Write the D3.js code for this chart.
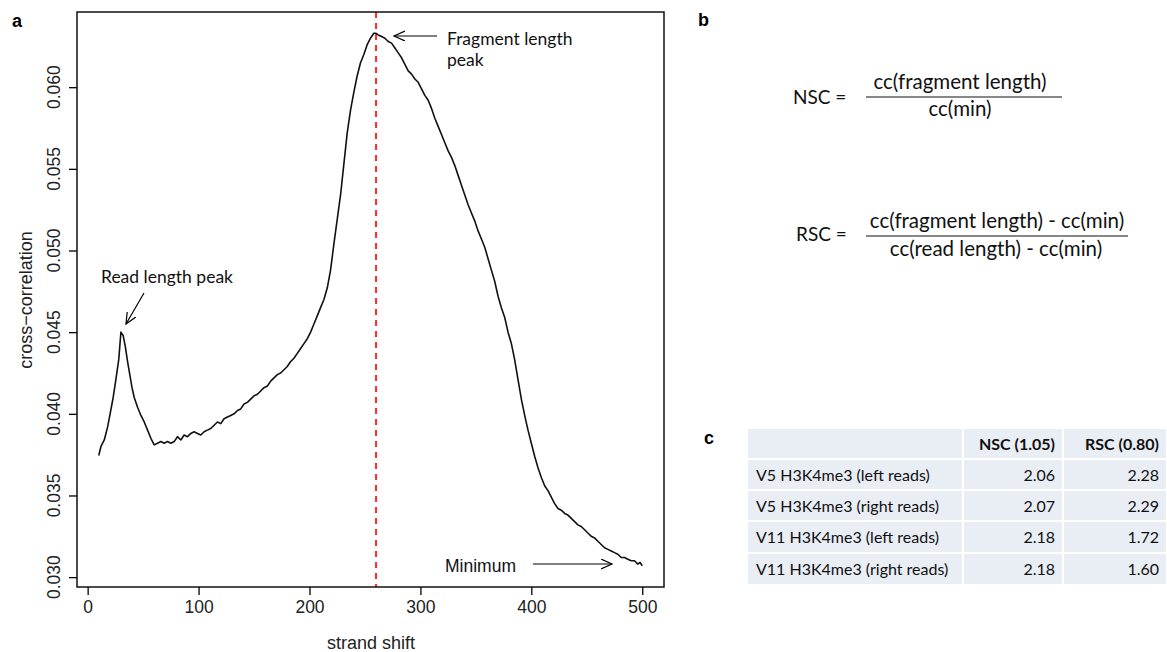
<!DOCTYPE html>
<html>
<head>
<meta charset="utf-8">
<script src="https://cdn.jsdelivr.net/npm/d3@7"></script>
<style>
  body { margin: 0; background: #fff; }
  svg { display: block; }
</style>
</head>
<body>
<div></div>
<script>
// cross-correlation profile (strand shift, cc)
const shift = [10, 12, 15, 18, 20, 23, 25, 28, 30, 32, 34, 36, 38, 40, 42, 45, 48, 51, 54, 57,
  60, 63, 66, 69, 72, 75, 78, 81, 84, 87, 90, 93, 96, 99, 102, 105, 108, 111, 114, 117,
  120, 123, 126, 129, 132, 135, 138, 141, 144, 147, 150, 153, 156, 159, 162, 165, 168, 171, 174, 177,
  180, 183, 186, 189, 192, 195, 198, 201, 204, 207, 210, 213, 216, 219, 222, 225, 228, 231, 234, 237,
  240, 243, 246, 249, 252, 255, 258, 260, 262, 265, 268, 271, 274, 277, 280, 283, 286, 289, 292, 295,
  298, 301, 304, 307, 310, 313, 316, 319, 322, 325, 328, 331, 334, 337, 340, 343, 346, 349, 352, 355,
  358, 361, 364, 367, 370, 373, 376, 379, 382, 385, 388, 391, 394, 397, 400, 403, 406, 409, 412, 415,
  418, 421, 424, 427, 430, 433, 436, 439, 442, 445, 448, 451, 454, 457, 460, 463, 466, 469, 472, 475,
  478, 481, 484, 487, 490, 493, 496, 498, 500];
const cc = [0.03745, 0.0380, 0.0384, 0.0392, 0.0399, 0.0410, 0.0419, 0.0433, 0.0450, 0.0448, 0.0441, 0.0432, 0.0424, 0.0416, 0.0410, 0.0404, 0.0399, 0.0395, 0.0390, 0.0385,
  0.0381, 0.0382, 0.0383, 0.0382, 0.0383, 0.0382, 0.0383, 0.0386, 0.0384, 0.0387, 0.0386, 0.0388, 0.0389, 0.0388, 0.0387, 0.0389, 0.0390, 0.0391, 0.0393, 0.0395,
  0.0394, 0.0397, 0.0398, 0.0399, 0.0400, 0.0402, 0.0403, 0.0406, 0.0407, 0.0409, 0.0411, 0.0412, 0.0414, 0.0416, 0.0417, 0.0420, 0.0422, 0.0424, 0.0425, 0.0427,
  0.0429, 0.0432, 0.0434, 0.0437, 0.0440, 0.0443, 0.0446, 0.0450, 0.0455, 0.0460, 0.0465, 0.0470, 0.0477, 0.0488, 0.0504, 0.0519, 0.0534, 0.0553, 0.0572, 0.0586,
  0.0597, 0.0607, 0.0615, 0.0620, 0.0626, 0.0630, 0.0633, 0.0633, 0.0632, 0.0631, 0.0630, 0.0628, 0.0627, 0.0624, 0.0621, 0.0618, 0.0614, 0.0610, 0.0608, 0.0605,
  0.0603, 0.0599, 0.0595, 0.0592, 0.0587, 0.0581, 0.0576, 0.0571, 0.0566, 0.0561, 0.0557, 0.0552, 0.0546, 0.0540, 0.0534, 0.0528, 0.0523, 0.0518, 0.0512, 0.0507,
  0.0502, 0.0495, 0.0488, 0.0481, 0.0472, 0.0465, 0.0459, 0.0450, 0.0443, 0.0433, 0.0421, 0.0409, 0.0399, 0.0390, 0.0382, 0.0374, 0.0367, 0.0361, 0.0356, 0.0353,
  0.0349, 0.0345, 0.0342, 0.0341, 0.0339, 0.0338, 0.0336, 0.0334, 0.0332, 0.0331, 0.0329, 0.0327, 0.0325, 0.0324, 0.0322, 0.0320, 0.0318, 0.0317, 0.0316, 0.0315,
  0.0314, 0.0312, 0.0312, 0.0311, 0.0310, 0.0310, 0.0308, 0.0309, 0.0307];
const fragmentPeak = 260;

const xTicks = [0, 100, 200, 300, 400, 500];
const yTicks = [0.030, 0.035, 0.040, 0.045, 0.050, 0.055, 0.060];

// table in panel c
const tableHeader = ['', 'NSC (1.05)', 'RSC (0.80)'];
const samples = ['V5 H3K4me3 (left reads)', 'V5 H3K4me3 (right reads)', 'V11 H3K4me3 (left reads)', 'V11 H3K4me3 (right reads)'];
const nsc = ['2.06', '2.07', '2.18', '2.18'];
const rsc = ['2.28', '2.29', '1.72', '1.60'];

const data = shift.map((s, i) => ({ s: s, v: cc[i] }));

const svg = d3.select('div').append('svg')
    .attr('width', 1167)
    .attr('height', 652);

// arrow head like the hand drawn ones
svg.append('defs').append('marker')
    .attr('id', 'open')
    .attr('markerUnits', 'userSpaceOnUse')
    .attr('markerWidth', 14).attr('markerHeight', 14)
    .attr('refX', 11).attr('refY', 5)
    .attr('orient', 'auto')
    .append('path')
    .attr('d', 'M0,0 L11,5 L0,10')
    .attr('fill', 'none')
    .attr('stroke', 'black')
    .attr('stroke-width', 1.2);

// R style range extension of 4%
const xr = d3.extent(shift), yr = d3.extent(cc);
const xPad = (xr[1] - xr[0]) * 0.04, yPad = (yr[1] - yr[0]) * 0.04;

const xScale = d3.scaleLinear()
    .domain([xr[0] - xPad, xr[1] + xPad])
    .range([77, 664]);

const yScale = d3.scaleLinear()
    .domain([yr[0] - yPad, yr[1] + yPad])
    .range([587, 12]);

// axes
const xAxis = svg.append('g')
    .attr('transform', 'translate(0,587)')
    .call(d3.axisBottom(xScale).tickValues(xTicks).tickSize(8).tickPadding(6));
xAxis.select('.domain').remove();
xAxis.selectAll('line').attr('stroke-width', 1.3);
xAxis.selectAll('text')
    .attr('font-family', 'Liberation Sans, Arial, sans-serif')
    .attr('font-size', 17.5)
    .attr('fill', '#222');

const yAxis = svg.append('g')
    .attr('transform', 'translate(77,0)')
    .call(d3.axisLeft(yScale).tickValues(yTicks).tickSize(8).tickFormat(''));
yAxis.select('.domain').remove();
yAxis.selectAll('line').attr('stroke-width', 1.3);

svg.append('g').selectAll('text')
    .data(yTicks)
    .enter().append('text')
    .attr('transform', d => 'translate(60,' + yScale(d) + ') rotate(-90)')
    .attr('text-anchor', 'middle')
    .attr('font-family', 'Liberation Sans, Arial, sans-serif')
    .attr('font-size', 17.5)
    .attr('fill', '#222')
    .text(d3.format('.3f'));

// axis titles
svg.append('text')
    .attr('x', 371).attr('y', 649)
    .attr('text-anchor', 'middle')
    .attr('font-family', 'Liberation Sans, Arial, sans-serif')
    .attr('font-size', 18)
    .attr('fill', '#222')
    .text('strand shift');

svg.append('text')
    .attr('transform', 'translate(32,300) rotate(-90)')
    .attr('text-anchor', 'middle')
    .attr('font-family', 'Liberation Sans, Arial, sans-serif')
    .attr('font-size', 18)
    .attr('fill', '#222')
    .text('cross\u2212correlation');

// fragment length marker
svg.append('line')
    .attr('x1', xScale(fragmentPeak)).attr('x2', xScale(fragmentPeak))
    .attr('y1', 12).attr('y2', 587)
    .attr('stroke', '#ff2a2a')
    .attr('stroke-width', 2)
    .attr('stroke-dasharray', '6,5');

// the curve
svg.append('path')
    .datum(data)
    .attr('fill', 'none')
    .attr('stroke', '#111')
    .attr('stroke-width', 1.6)
    .attr('stroke-linejoin', 'round')
    .attr('d', d3.line().x(d => xScale(d.s)).y(d => yScale(d.v)));

// plot box
svg.append('rect')
    .attr('x', 77).attr('y', 12)
    .attr('width', 587).attr('height', 575)
    .attr('fill', 'none')
    .attr('stroke', '#111')
    .attr('stroke-width', 1.5);

// annotations
const note = svg.append('g')
    .attr('font-family', 'Lato, sans-serif')
    .attr('font-size', 17.5)
    .attr('fill', '#111');

note.append('text').attr('x', 167).attr('y', 283).attr('text-anchor', 'middle').text('Read length peak');
note.append('text').attr('x', 447).attr('y', 45).text('Fragment length');
note.append('text').attr('x', 447).attr('y', 66).text('peak');
svg.append('text')
    .attr('x', 445).attr('y', 572)
    .attr('font-family', 'Liberation Sans, Arial, sans-serif')
    .attr('font-size', 17.5)
    .attr('fill', '#111')
    .text('Minimum');

const arrows = [
  [144, 293, 126, 324],
  [437, 36, 394, 36],
  [533, 564, 612, 564]
];
svg.append('g').selectAll('line')
    .data(arrows)
    .enter().append('line')
    .attr('x1', d => d[0]).attr('y1', d => d[1])
    .attr('x2', d => d[2]).attr('y2', d => d[3])
    .attr('stroke', 'black')
    .attr('stroke-width', 1.2)
    .attr('marker-end', 'url(#open)');

// panel letters
const letters = [['a', 12, 27], ['b', 698, 26], ['c', 704, 444]];
svg.append('g').selectAll('text')
    .data(letters)
    .enter().append('text')
    .attr('x', d => d[1]).attr('y', d => d[2])
    .attr('font-family', 'Liberation Sans, Arial, sans-serif')
    .attr('font-weight', 'bold')
    .attr('font-size', 18)
    .text(d => d[0]);

// formulas (panel b)
const f = svg.append('g')
    .attr('font-family', 'Lato, sans-serif')
    .attr('font-size', 20.5)
    .attr('fill', '#111');

f.append('text').attr('x', 793).attr('y', 104).attr('font-size', 19).text('NSC =');
f.append('text').attr('x', 960).attr('y', 89).attr('text-anchor', 'middle').text('cc(fragment length)');
f.append('line').attr('x1', 866).attr('x2', 1062).attr('y1', 97).attr('y2', 97).attr('stroke', '#111').attr('stroke-width', 1.2);
f.append('text').attr('x', 960).attr('y', 116).attr('text-anchor', 'middle').text('cc(min)');

f.append('text').attr('x', 796).attr('y', 241).attr('font-size', 19).text('RSC =');
f.append('text').attr('x', 997).attr('y', 228).attr('text-anchor', 'middle').text('cc(fragment length) - cc(min)');
f.append('line').attr('x1', 866).attr('x2', 1128).attr('y1', 236).attr('y2', 236).attr('stroke', '#111').attr('stroke-width', 1.2);
f.append('text').attr('x', 996).attr('y', 256).attr('text-anchor', 'middle').text('cc(read length) - cc(min)');

// table (panel c)
const colX = [747, 963, 1063, 1167];
const rowY = [428, 459, 490, 521, 553, 585];
const rows = [tableHeader].concat(samples.map((s, i) => [s, nsc[i], rsc[i]]));

const table = svg.append('g')
    .attr('font-family', 'Lato, sans-serif')
    .attr('font-size', 16)
    .attr('fill', '#111');

rows.forEach((row, r) => {
  row.forEach((cell, c) => {
    table.append('rect')
        .attr('x', colX[c] + 1).attr('y', rowY[r] + 1)
        .attr('width', colX[c + 1] - colX[c] - 2)
        .attr('height', rowY[r + 1] - rowY[r] - 2)
        .attr('fill', '#e9edf4');
    table.append('text')
        .attr('x', c === 0 ? colX[c] + 9 : colX[c + 1] - 8)
        .attr('y', (rowY[r] + rowY[r + 1]) / 2 + 6)
        .attr('text-anchor', c === 0 ? 'start' : 'end')
        .attr('font-weight', r === 0 ? 'bold' : 'normal')
        .text(cell);
  });
});
</script>
</body>
</html>
